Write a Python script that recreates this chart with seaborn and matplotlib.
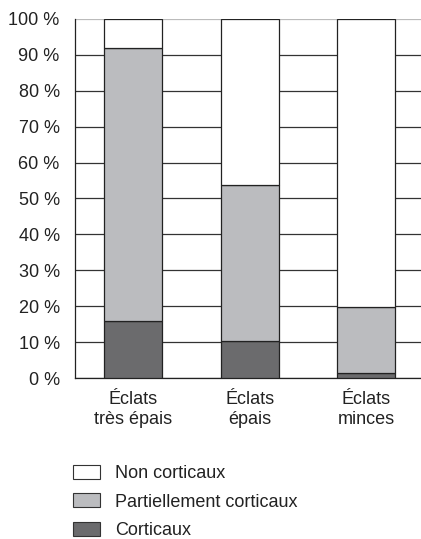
import numpy as np
import pandas as pd
import matplotlib
matplotlib.use('Agg')
import matplotlib.pyplot as plt
import seaborn as sns
from matplotlib.patches import Patch

# ========== données ==========
categories = ['Éclats\ntrès épais', 'Éclats\népais', 'Éclats\nminces']
corticaux = [16.0, 10.4, 1.3]
partiels = [76.0, 43.4, 18.6]
non_corticaux = [8.0, 46.2, 80.1]

series = ['Corticaux', 'Partiellement corticaux', 'Non corticaux']
colors = ['#6b6b6d', '#bbbcbf', '#ffffff']

df = pd.DataFrame({
    'cat': categories,
    'Corticaux': corticaux,
    'Partiellement corticaux': partiels,
    'Non corticaux': non_corticaux,
})

sns.set_style('white')
plt.rcParams['font.family'] = ['Liberation Sans', 'DejaVu Sans']
fs = 13

fig = plt.figure(figsize=(4.21, 5.39), dpi=100)
ax = fig.add_axes([0.178, 0.2987, 0.83, 0.6661])

# ========== barres empilées ==========
bottom = np.zeros(len(categories))
for name, col in zip(series, colors):
    sns.barplot(data=df, x='cat', y=name, color=col, width=0.5,
                bottom=bottom, edgecolor='#222222', linewidth=0.9,
                saturation=1, ax=ax, zorder=3)
    bottom = bottom + df[name].values

ax.set_ylim(0, 100)
ax.set_xlim(-0.5, 2.5)
ax.set_yticks(np.arange(0, 101, 10))
ax.set_yticklabels([f'{v} %' for v in range(0, 101, 10)])
ax.yaxis.grid(True, color='#333333', linewidth=0.9, zorder=0)
ax.get_ygridlines()[-1].set_color('#bbbbbb')
ax.set_axisbelow(True)

ax.set_xticks([-0.5, 0.5, 1.5, 2.5], minor=True)
ax.tick_params(axis='x', which='major', length=0, pad=9.5, labelsize=fs, labelcolor='#222222')
ax.tick_params(axis='x', which='minor', length=5, direction='out', width=0.9, color='#222222')
ax.tick_params(axis='y', length=5, direction='out', width=0.9, color='#222222',
               labelsize=fs, labelcolor='#222222', pad=6)
for lab in ax.get_xticklabels():
    lab.set_linespacing(1.2)
ax.set_xlabel('')
ax.set_ylabel('')

for s in ['top', 'right']:
    ax.spines[s].set_visible(False)
for s in ['left', 'bottom']:
    ax.spines[s].set_color('#222222')
    ax.spines[s].set_linewidth(0.9)

# ========== légende ==========
handles = [Patch(facecolor=c, edgecolor='#333333', linewidth=0.8) for c in colors[::-1]]
leg = fig.legend(handles, series[::-1], loc='upper left',
                 bbox_to_anchor=(73 / 421, 1 - 465 / 539),
                 frameon=False, fontsize=fs, handlelength=1.5, handleheight=0.8,
                 labelspacing=0.62, handletextpad=0.85, borderpad=0, borderaxespad=0)
for t in leg.get_texts():
    t.set_color('#222222')

fig.savefig('out.png', dpi=100)
